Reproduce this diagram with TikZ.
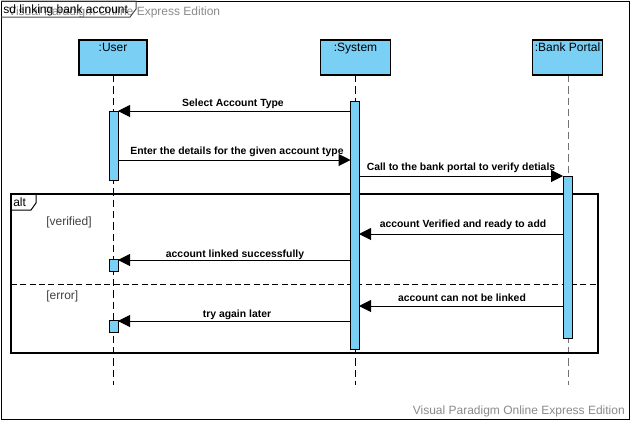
\documentclass[tikz,border=0pt]{standalone}
\usepackage{fontspec}
\setmainfont{Liberation Sans}
\usetikzlibrary{arrows.meta}
\definecolor{lifeblue}{HTML}{7ACFF5}
\definecolor{wmgray}{HTML}{8A8A8A}
\tikzset{
  lifebox/.style={draw=black, fill=lifeblue, line width=0.8pt, minimum width=52pt, minimum height=26.25pt, inner sep=0pt},
  lifetitle/.style={font=\fontsize{9}{10}\selectfont, anchor=north, inner sep=0pt},
  lifeline/.style={dashed, dash pattern=on 5.5pt off 3pt, line width=0.75pt},
  actbar/.style={draw=black, fill=lifeblue, line width=0.75pt},
  msg/.style={line width=0.75pt, -{Triangle[length=9pt,width=9pt]}},
  msglabel/.style={font=\bfseries\fontsize{7.8}{9}\selectfont, anchor=base, inner sep=0pt},
  guard/.style={font=\fontsize{9}{10}\selectfont, text=black!75, anchor=base west, inner sep=0pt},
  watermark/.style={font=\fontsize{9}{10}\selectfont, text=wmgray, inner sep=0pt},
}
\begin{document}
\begin{tikzpicture}[x=0.75pt, y=-0.75pt]
\useasboundingbox (0,0) rectangle (632,422);
% outer frame
\draw[line width=0.75pt] (1,1) rectangle (629,419);
% top watermark
\node[watermark, anchor=base west] (wmtop) at (8,15) {Visual Paradigm Online Express Edition};
% frame tab
\draw[line width=0.75pt, draw=black!70] (1,1) -- (136,1) -- (136,9) -- (130,17) -- (1,17);
\node[font=\fontsize{9}{10}\selectfont, anchor=base west, inner sep=0pt] (title) at (3,13) {sd linking bank account};

% lifeline coordinates
\coordinate (uTop) at (113,75);
\coordinate (uBot) at (113,385);
\coordinate (sTop) at (355,75);
\coordinate (sBot) at (355,385);
\coordinate (bTop) at (568,75);
\coordinate (bBot) at (568,385);
\draw[lifeline] (uTop) -- (uBot);
\draw[lifeline] (sTop) -- (sBot);
\draw[lifeline, draw=black!55] (bTop) -- (bBot);

% lifeline heads
\node[lifebox, minimum width=51pt] (user) at (113,57.5) {};
\node[lifetitle] (userT) at (113,43) {:User};
\node[lifebox, minimum width=53pt] (system) at (355.5,57.5) {};
\node[lifetitle] (systemT) at (355.5,43) {:System};
\node[lifebox, minimum width=53pt] (bank) at (567.5,57.5) {};
\node[lifetitle] (bankT) at (567.5,43) {:Bank Portal};

% alt fragment
\draw[line width=0.9pt] (11,194) rectangle (598,353);
\draw[line width=0.75pt] (11,210) -- (31,210) -- (36,203) -- (36,194);
\node[font=\fontsize{9}{10}\selectfont, anchor=base west, inner sep=0pt] (altT) at (13,206) {alt};
\draw[dashed, dash pattern=on 4.5pt off 2.5pt, line width=0.75pt] (11,284) -- (598,284);
\node[guard] (g1) at (46,225) {[verified]};
\node[guard] (g2) at (46,299) {[error]};

% activation bars
\draw[actbar] (109,111) rectangle (118,180);
\draw[actbar] (350.5,101) rectangle (359,349);
\draw[actbar] (563,176) rectangle (572,338);
\draw[actbar] (109,259) rectangle (118,271);
\draw[actbar] (109,320) rectangle (118,332);

% message endpoints
\coordinate (m1s) at (350.5,111); \coordinate (m1e) at (118,111);
\coordinate (m2s) at (118,160);   \coordinate (m2e) at (350.5,160);
\coordinate (m3s) at (359,176);   \coordinate (m3e) at (563,176);
\coordinate (m4s) at (563,234);   \coordinate (m4e) at (359,234);
\coordinate (m5s) at (350.5,260); \coordinate (m5e) at (118,260);
\coordinate (m6s) at (563,306);   \coordinate (m6e) at (359,306);
\coordinate (m7s) at (350.5,321); \coordinate (m7e) at (118,321);

\draw[msg] (m1s) -- (m1e);
\node[msglabel] (l1) at (233,106) {Select Account Type};
\draw[msg] (m2s) -- (m2e);
\node[msglabel] (l2) at (237,154) {Enter the details for the given account type};
\draw[msg] (m3s) -- (m3e);
\node[msglabel] (l3) at (461,170) {Call to the bank portal to verify detials};
\draw[msg] (m4s) -- (m4e);
\node[msglabel] (l4) at (463,227) {account Verified and ready to add};
\draw[msg] (m5s) -- (m5e);
\node[msglabel] (l5) at (235,257) {account linked successfully};
\draw[msg] (m6s) -- (m6e);
\node[msglabel] (l6) at (462,301) {account can not be linked};
\draw[msg] (m7s) -- (m7e);
\node[msglabel] (l7) at (237,317) {try again later};

% bottom watermark
\node[watermark, anchor=base east] (wmbot) at (625,414) {Visual Paradigm Online Express Edition};
\end{tikzpicture}
\end{document}
